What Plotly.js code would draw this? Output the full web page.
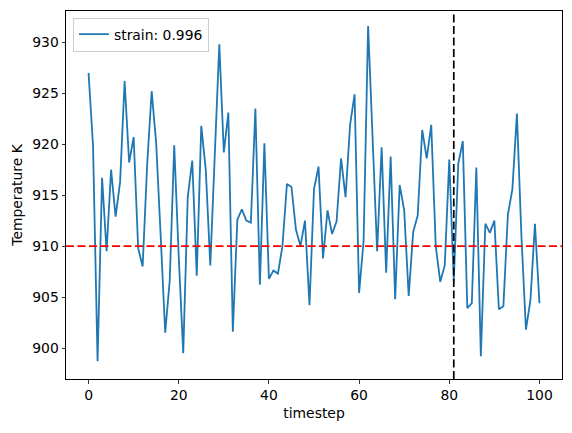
<!DOCTYPE html>
<html>
<head>
<meta charset="utf-8">
<script src="https://cdn.plot.ly/plotly-3.0.1.min.js"></script>
<style>html,body{margin:0;padding:0;background:#fff;}#chart{width:572px;height:433px;}</style>
</head>
<body>
<div id="chart"></div>
<script>
const seriesName = "strain: 0.996";
const temperature = [
  927.0, 919.8, 898.7, 916.7, 909.5, 917.5, 912.9, 916.3, 926.2, 918.2,
  920.7, 909.8, 908.0, 918.0, 925.2, 920.1, 911.0, 901.5, 906.6, 919.9,
  909.0, 899.5, 914.8, 918.4, 907.1, 921.8, 917.5, 908.1, 919.0, 929.8,
  919.2, 923.1, 901.6, 912.6, 913.6, 912.5, 912.3, 923.5, 906.2, 920.1,
  906.8, 907.6, 907.3, 910.0, 916.1, 915.8, 911.6, 910.0, 912.5, 904.2,
  915.6, 917.8, 908.8, 913.5, 911.2, 912.4, 918.6, 914.8, 921.9, 924.9,
  905.4, 910.5, 931.6, 920.5, 909.5, 919.7, 907.4, 918.8, 904.8, 916.0,
  913.5, 905.1, 911.4, 913.0, 921.4, 918.6, 921.9, 910.0, 906.5, 908.1,
  918.5, 906.6, 918.1, 920.3, 903.9, 904.4, 917.7, 899.2, 912.2, 911.3,
  912.5, 903.8, 904.1, 913.1, 915.6, 923.0, 911.0, 901.8, 904.7, 912.2,
  904.4
];
const timesteps = temperature.map((_, i) => i);
const refTemperature = 910;
const markerStep = 81;
const xTicks = [0, 20, 40, 60, 80, 100];
const yTicks = [900, 905, 910, 915, 920, 925, 930];
const xRange = [-5, 105];
const yRange = [896.96, 933.07];

const fontSize = 13.9;

const traces = [{
  x: timesteps, y: temperature, type: 'scatter', mode: 'lines',
  name: seriesName, line: {color: '#1f77b4', width: 1.8}
}];

const axisCommon = {
  showline: true, mirror: true, linecolor: '#000', linewidth: 1,
  ticks: 'outside', ticklen: 3.5, tickwidth: 0.8, tickcolor: '#000',
  showgrid: false, zeroline: false,
  tickfont: {family: 'DejaVu Sans', size: fontSize, color: '#000'}
};

const layout = {
  width: 572, height: 433,
  margin: {l: 66, r: 10, t: 11, b: 54},
  paper_bgcolor: '#fff', plot_bgcolor: '#fff',
  font: {family: 'DejaVu Sans', size: fontSize, color: '#000'},
  showlegend: true,
  legend: {x: 0.014, y: 0.982, xanchor: 'left', yanchor: 'top',
    bgcolor: 'rgba(255,255,255,0.8)', bordercolor: '#cccccc', borderwidth: 1,
    itemwidth: 30,
    font: {family: 'DejaVu Sans', size: fontSize, color: '#000'}},
  xaxis: Object.assign({}, axisCommon, {
    range: xRange, tickvals: xTicks, ticktext: xTicks.map(String),
    title: {text: 'timestep', font: {family: 'DejaVu Sans', size: fontSize}, standoff: 6}
  }),
  yaxis: Object.assign({}, axisCommon, {
    range: yRange, tickvals: yTicks, ticktext: yTicks.map(String),
    title: {text: 'Temperature K', font: {family: 'DejaVu Sans', size: fontSize}, standoff: 6}
  }),
  shapes: [
    {type: 'line', xref: 'paper', x0: 0, x1: 1, yref: 'y', y0: refTemperature, y1: refTemperature,
     line: {color: 'red', width: 1.7, dash: '8px,3.5px'}},
    {type: 'line', xref: 'x', x0: markerStep, x1: markerStep, yref: 'paper', y0: 0, y1: 1,
     line: {color: 'black', width: 1.7, dash: '8px,3.5px'}}
  ]
};

Plotly.newPlot('chart', traces, layout, {displayModeBar: false, staticPlot: true});
</script>
</body>
</html>
